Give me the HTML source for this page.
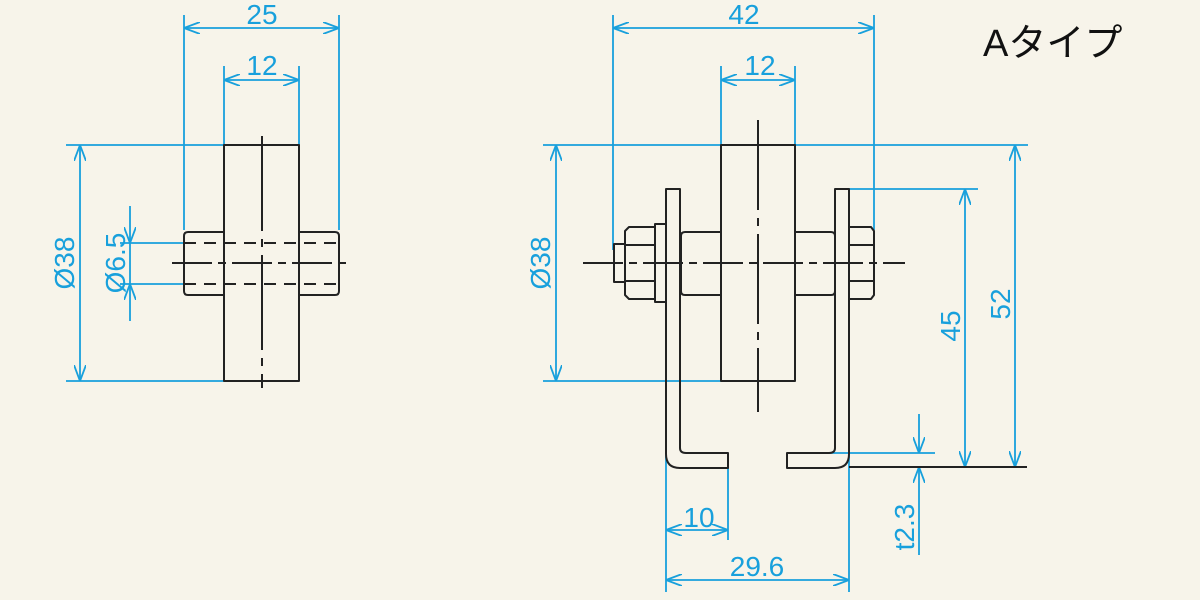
<!DOCTYPE html>
<html><head><meta charset="utf-8"><style>
html,body{margin:0;padding:0;background:#f7f4ea;}
svg{display:block}
text{font-family:"Liberation Sans","Noto Sans CJK JP",sans-serif;fill:#18a0dc;}
</style></head><body>
<svg width="1200" height="600" viewBox="0 0 1200 600" xmlns="http://www.w3.org/2000/svg">
<defs>
<marker id="a" viewBox="0 0 16 12" refX="16" refY="6" markerWidth="16" markerHeight="12" markerUnits="userSpaceOnUse" orient="auto-start-reverse">
<path d="M0,0 L16,6 L0,12" fill="none" stroke="#18a0dc" stroke-width="1.8"/>
</marker>
</defs>
<rect width="1200" height="600" fill="#f7f4ea"/>
<g stroke="#18a0dc" stroke-width="1.8" fill="none">
<line x1="184" y1="15" x2="184" y2="230"/><line x1="339" y1="15" x2="339" y2="230"/>
<line x1="184" y1="28" x2="339" y2="28" marker-start="url(#a)" marker-end="url(#a)"/>
<line x1="224" y1="66" x2="224" y2="145"/><line x1="299" y1="66" x2="299" y2="145"/>
<line x1="224" y1="80" x2="299" y2="80" marker-start="url(#a)" marker-end="url(#a)"/>
<line x1="66" y1="145" x2="224" y2="145"/><line x1="66" y1="381" x2="224" y2="381"/>
<line x1="80" y1="145" x2="80" y2="381" marker-start="url(#a)" marker-end="url(#a)"/>
<line x1="120" y1="243" x2="184" y2="243"/><line x1="120" y1="284" x2="184" y2="284"/>
<line x1="130" y1="206" x2="130" y2="243" marker-end="url(#a)"/>
<line x1="130" y1="321" x2="130" y2="284" marker-end="url(#a)"/>
<line x1="130" y1="243" x2="130" y2="284"/>
<line x1="613" y1="15" x2="613" y2="250"/><line x1="874" y1="15" x2="874" y2="230"/>
<line x1="613" y1="28" x2="874" y2="28" marker-start="url(#a)" marker-end="url(#a)"/>
<line x1="721" y1="66" x2="721" y2="145"/><line x1="795" y1="66" x2="795" y2="145"/>
<line x1="721" y1="80" x2="795" y2="80" marker-start="url(#a)" marker-end="url(#a)"/>
<line x1="543" y1="145" x2="1028" y2="145"/><line x1="543" y1="381" x2="721" y2="381"/>
<line x1="556" y1="145" x2="556" y2="381" marker-start="url(#a)" marker-end="url(#a)"/>
<line x1="849" y1="189" x2="978" y2="189"/>
<line x1="965" y1="189" x2="965" y2="467" marker-start="url(#a)" marker-end="url(#a)"/>
<line x1="1015" y1="145" x2="1015" y2="467" marker-start="url(#a)" marker-end="url(#a)"/>
<line x1="787" y1="453" x2="935" y2="453"/>
<line x1="919" y1="414" x2="919" y2="453" marker-end="url(#a)"/>
<line x1="919" y1="555" x2="919" y2="467" marker-end="url(#a)"/>
<line x1="666" y1="455" x2="666" y2="592"/><line x1="728" y1="468" x2="728" y2="540"/>
<line x1="849" y1="455" x2="849" y2="592"/>
<line x1="666" y1="530" x2="728" y2="530" marker-start="url(#a)" marker-end="url(#a)"/>
<line x1="666" y1="580" x2="849" y2="580" marker-start="url(#a)" marker-end="url(#a)"/>
</g>
<g stroke="#222" stroke-width="2" fill="none" stroke-linejoin="round">
<rect x="224" y="145" width="75" height="236"/>
<path d="M224,232 H188 Q184,232 184,236 V291 Q184,295 188,295 H224"/>
<path d="M299,232 H335 Q339,232 339,236 V291 Q339,295 335,295 H299"/>
<line x1="184" y1="243" x2="339" y2="243" stroke-dasharray="12,8"/>
<line x1="184" y1="284" x2="339" y2="284" stroke-dasharray="12,8"/>
<line x1="172" y1="263" x2="352" y2="263" stroke-dasharray="40,6,8,6"/>
<line x1="262" y1="136" x2="262" y2="388" stroke-dasharray="95,8,8,8"/>
<rect x="721" y="145" width="74" height="236"/>
<path d="M721,232 H685 Q681,232 681,236 V291 Q681,295 685,295 H721"/>
<path d="M795,232 H831 Q835,232 835,236 V291 Q835,295 831,295 H795"/>
<path d="M666,189 H680 V448 Q680,453 686,453 H728 V468 H680 Q666,468 666,454 Z"/>
<path d="M849,189 H835 V448 Q835,453 829,453 H787 V468 H835 Q849,468 849,454 Z"/>
<path d="M629,227 H655 V299 H629 L625,295 V231 Z"/>
<line x1="625" y1="245" x2="655" y2="245"/><line x1="625" y1="281" x2="655" y2="281"/>
<rect x="655" y="224" width="11" height="78"/>
<rect x="614" y="244" width="11" height="38"/>
<path d="M849,227 H871 L874,231 V295 L871,299 H849"/>
<line x1="849" y1="245" x2="874" y2="245"/><line x1="849" y1="281" x2="874" y2="281"/>
<line x1="583" y1="263" x2="905" y2="263" stroke-dasharray="40,6,8,6"/>
<line x1="758" y1="120" x2="758" y2="412" stroke-dasharray="90,8,8,8"/>
<line x1="849" y1="467" x2="1027" y2="467"/>
</g>
<g font-size="28">
<text x="262" y="24" text-anchor="middle">25</text>
<text x="262" y="75" text-anchor="middle">12</text>
<text x="744" y="24" text-anchor="middle">42</text>
<text x="760" y="75" text-anchor="middle">12</text>
<text x="699" y="527" text-anchor="middle">10</text>
<text x="757" y="576" text-anchor="middle">29.6</text>
<text transform="translate(74,263) rotate(-90)" text-anchor="middle">Ø38</text>
<text transform="translate(125,263) rotate(-90)" text-anchor="middle">Ø6.5</text>
<text transform="translate(550,263) rotate(-90)" text-anchor="middle">Ø38</text>
<text transform="translate(960,326) rotate(-90)" text-anchor="middle">45</text>
<text transform="translate(1010,304) rotate(-90)" text-anchor="middle">52</text>
<text transform="translate(914,527) rotate(-90)" text-anchor="middle">t2.3</text>
</g>
<text x="983" y="56" font-size="38" style="fill:#111">Aタイプ</text>
</svg>
</body></html>
